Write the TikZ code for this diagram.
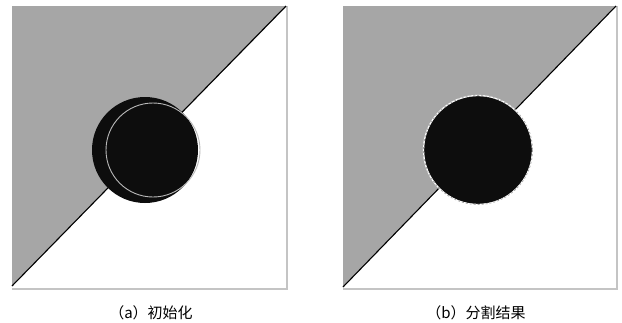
\documentclass[tikz,border=0pt]{standalone}
\usepackage{fontspec}
\newfontfamily\cjk{Noto Sans CJK SC}
\usetikzlibrary{positioning}
\definecolor{bggray}{RGB}{166,166,166}
\definecolor{rimgray}{RGB}{196,196,196}

\begin{document}
\begin{tikzpicture}[
  x=1pt, y=-1pt,
  half/.style={fill=bggray},
  cut/.style={draw=black, line width=1.1pt},
  rim/.style={draw=rimgray, line width=1.6pt},
  blob/.style={fill=black!95},
  contour/.style={draw=gray!55, line width=0.9pt},
  contourw/.style={draw=white, line width=1.3pt},
  contourd/.style={draw=gray!70, line width=0.8pt, dash pattern=on 2pt off 2pt},
  caption/.style={font=\cjk\fontsize{15}{17}\selectfont, inner sep=0pt},
]

% --- Canvas ---
\fill[white] (0,0) rectangle (622,322);
\useasboundingbox (0,0) rectangle (622,322);

% --- Panel (a): initial contour ---
\fill[half] (12,6) -- (287,6) -- (12,286) -- cycle;
\draw[rim] (12,289) -- (287,289) -- (287,6);
\draw[cut] (12,286) -- (286,6);
\fill[blob] (145,150) circle (53);
\draw[contour] (153,150) circle (47);
\node[caption] (capa) at (151,313) {（a）初始化};

% --- Panel (b): segmentation result ---
\fill[half] (343,6) -- (616,6) -- (343,287) -- cycle;
\draw[rim] (343,289) -- (617,289) -- (617,6);
\draw[cut] (343,287) -- (616,6);
\fill[blob] (478,150) circle (54);
\draw[contourw] (478,150) circle (54.5);
\draw[contourd] (478,150) circle (54.5);
\node[caption] (capb) at (476,313) {（b）分割结果};

\end{tikzpicture}
\end{document}
